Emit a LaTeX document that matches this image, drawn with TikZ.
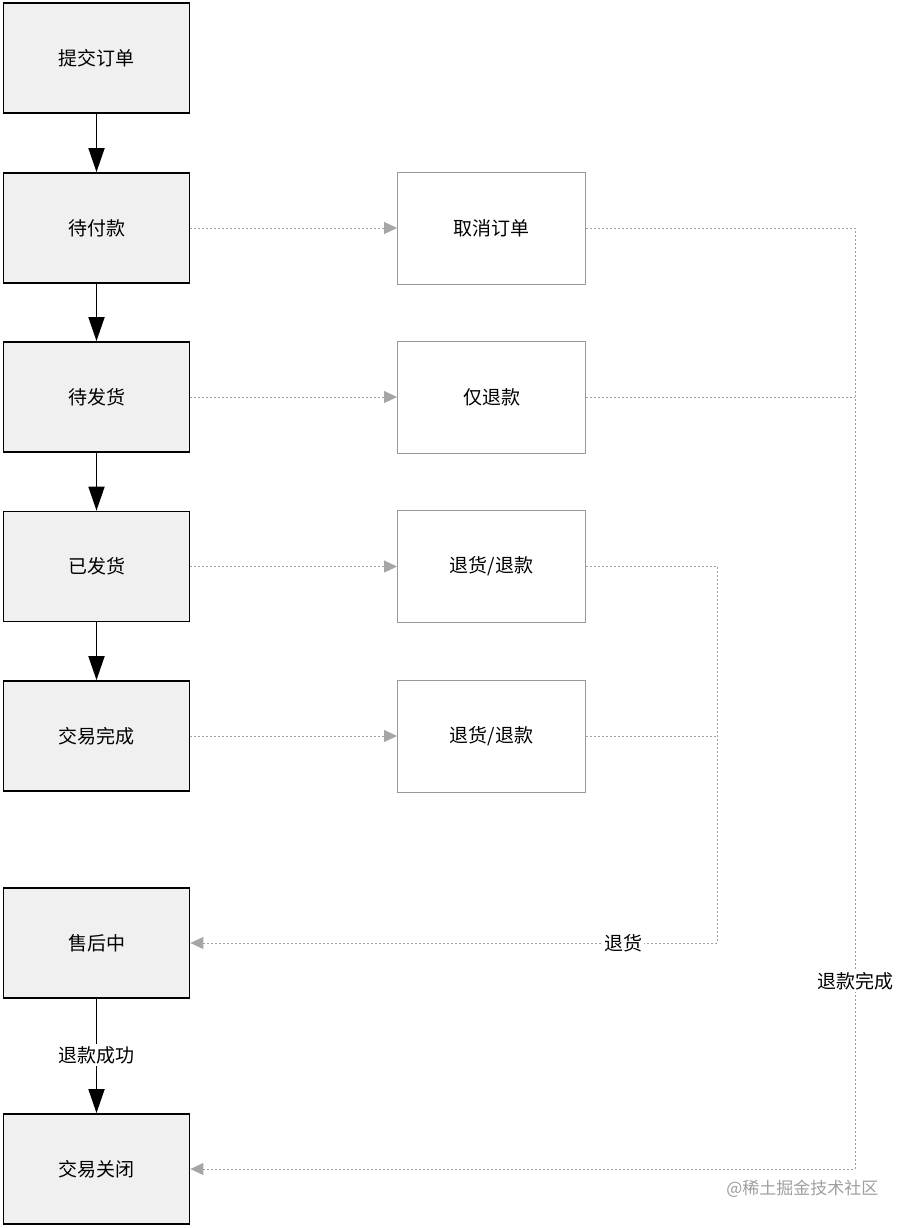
\documentclass[tikz,border=0pt]{standalone}
\usepackage{fontspec}
\setmainfont{Noto Sans CJK SC}
\usetikzlibrary{arrows.meta}
\begin{document}
\begin{tikzpicture}[x=1pt,y=-1pt,
  mainbox/.style={draw=black, line width=1.8pt, fill=gray!12, minimum width=186pt, minimum height=110pt, inner sep=0pt, font=\fontsize{19}{22}\selectfont},
  sidebox/.style={draw=gray!80, line width=0.9pt, fill=white, minimum width=188pt, minimum height=112pt, inner sep=0pt, font=\fontsize{19}{22}\selectfont},
  solidarrow/.style={draw=black, line width=1.8pt, -{Triangle[length=24pt,width=16pt]}},
  dasharrow/.style={draw=gray!75, line width=0.9pt, dash pattern=on 2pt off 2pt, -{Triangle[length=13pt,width=12pt,fill=gray!70,color=gray!70]}},
  dashline/.style={draw=gray!75, line width=0.9pt, dash pattern=on 2pt off 2pt},
  lbl/.style={fill=white, inner sep=2pt, font=\fontsize{19}{22}\selectfont}
]
\path[use as bounding box, fill=white] (0,0) rectangle (910,1228);

\node[mainbox] (submit) at (96.5,58) {提交订单};
\node[mainbox] (pay) at (96.5,228) {待付款};
\node[mainbox] (ship) at (96.5,397) {待发货};
\node[mainbox] (shipped) at (96.5,566.5) {已发货};
\node[mainbox] (done) at (96.5,736) {交易完成};
\node[mainbox] (after) at (96.5,943) {售后中};
\node[mainbox] (close) at (96.5,1169) {交易关闭};

\node[sidebox] (cancel) at (491.5,228) {取消订单};
\node[sidebox] (refund) at (491.5,397) {仅退款};
\node[sidebox] (ret1) at (491.5,566.5) {退货/退款};
\node[sidebox] (ret2) at (491.5,736) {退货/退款};

\draw[solidarrow] (submit) -- (pay);
\draw[solidarrow] (pay) -- (ship);
\draw[solidarrow] (ship) -- (shipped);
\draw[solidarrow] (shipped) -- (done);
\draw[solidarrow] (after) -- (close);
\node[lbl] (lsucc) at (96.5,1055) {退款成功};

\draw[dasharrow] (pay) -- (cancel);
\draw[dasharrow] (ship) -- (refund);
\draw[dasharrow] (shipped) -- (ret1);
\draw[dasharrow] (done) -- (ret2);

\coordinate (rA) at (855,228);
\coordinate (rB) at (855,1169);
\coordinate (gA) at (717,566.5);
\coordinate (gB) at (717,943);

\draw[dasharrow] (cancel.east) -- (rA) -- (rB) -- (close.east);
\draw[dashline] (refund.east) -- (refund.east -| rA);
\draw[dasharrow] (ret1.east) -- (gA) -- (gB) -- (after.east);
\draw[dashline] (ret2.east) -- (ret2.east -| gA);

\node[lbl] (lret) at (623,943) {退货};
\node[lbl] (lrefdone) at (855,981) {退款完成};

\node[font=\fontsize{17}{20}\selectfont, text=gray!75, anchor=east] (wm) at (882,1189) {@稀土掘金技术社区};
\end{tikzpicture}
\end{document}
